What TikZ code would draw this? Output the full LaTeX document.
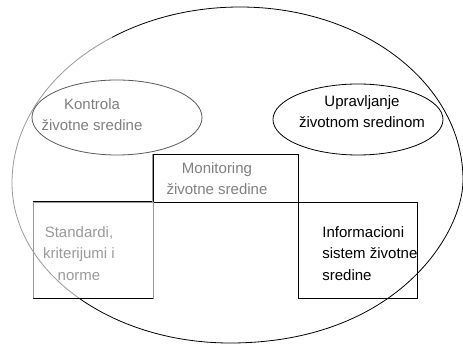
\documentclass[tikz,border=0pt]{standalone}
\usepackage{fontspec}
\setmainfont{Liberation Sans}
\usetikzlibrary{shapes.geometric}

\tikzstyle{zone} = [draw,ellipse,inner sep=0pt]
\tikzstyle{box} = [draw,rectangle,inner sep=0pt]
\tikzstyle{txt} = [font=\fontsize{15}{21.5}\selectfont,inner sep=0pt,align=center]
\tikzstyle{faded} = [black!40]
\tikzstyle{pale text} = [black!50]

\def\outline{(12,183) .. controls (12,86) and (114,7) .. (240,7)
  .. controls (363,7) and (463,84) .. (463,180)
  .. controls (463,235) and (395,343) .. (230,343)
  .. controls (110,343) and (12,271) .. (12,183) -- cycle}

\begin{document}
\begin{tikzpicture}[x=1pt,y=-1pt,line width=0.8pt]
\useasboundingbox (0,0) rectangle (463,344);
% outer region, left side faded in the scan
\begin{scope}
  \clip (117,-5) -- (470,-5) -- (470,350) -- (72,350) -- cycle;
  \draw \outline;
\end{scope}
\begin{scope}
  \clip (117,-5) -- (-5,-5) -- (-5,350) -- (72,350) -- cycle;
  \draw[faded] \outline;
\end{scope}

\node[zone,draw=black!65,minimum width=170pt,minimum height=75pt] (kontrola) at (117,117.5) {};
\node[zone,minimum width=170pt,minimum height=71pt] (upravljanje) at (358,119.5) {};

\node[box,minimum width=145pt,minimum height=48pt] (monitoring) at (225.5,178) {};
\node[box,draw=black!40,minimum width=120pt,minimum height=96pt] (standardi) at (93,250) {};
\node[box,minimum width=119pt,minimum height=96pt] (informacioni) at (357.5,250) {};
\draw (standardi.north west) -- (standardi.north east);
\draw (standardi.south west) -- (standardi.south east);
\draw[faded] (monitoring.north west) -- (monitoring.south west);

\node[txt,pale text,anchor=north] (t1) at (92,98) {Kontrola\\životne sredine};
\node[txt,anchor=north] (t2) at (362,95) {Upravljanje\\životnom sredinom};
\node[txt,pale text,anchor=north] (t3) at (217,162) {Monitoring\\životne sredine};
\node[txt,faded,anchor=north] (t4) at (79,226) {Standardi,\\kriterijumi i\\norme};
\node[txt,align=left,anchor=north west] (t5) at (322,226) {Informacioni\\sistem životne\\sredine};
\end{tikzpicture}
\end{document}
